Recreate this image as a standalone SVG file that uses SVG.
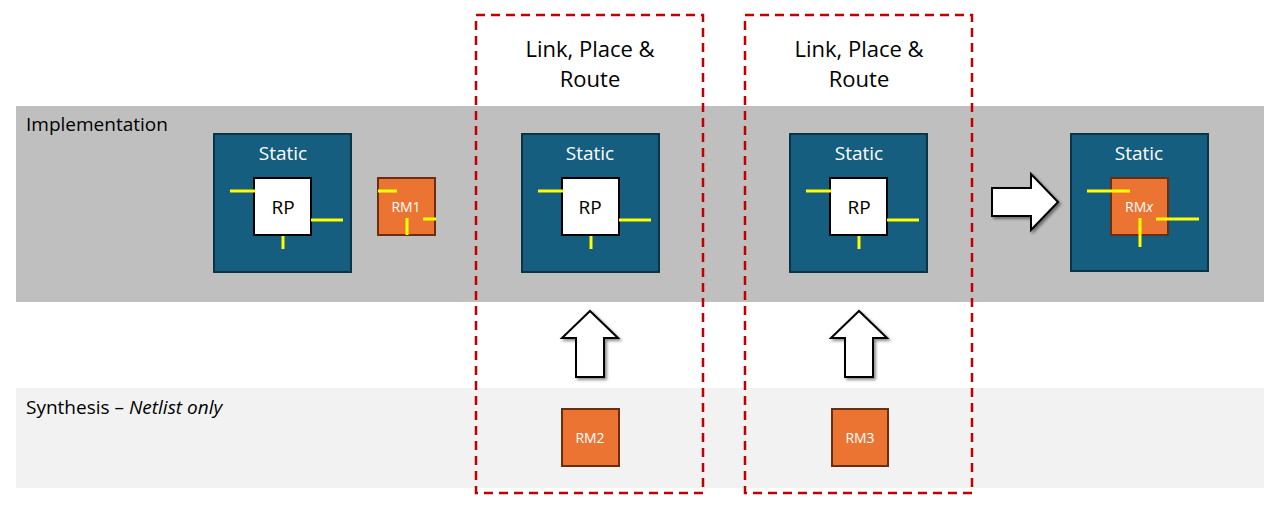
<svg xmlns="http://www.w3.org/2000/svg" width="1280" height="513" viewBox="0 0 1280 513">
<defs><style>
text{font-family:"Open Sans","Liberation Sans",sans-serif}
.st{fill:#155e80;stroke:#0c3346;stroke-width:2}
.rp{fill:#fff;stroke:#000;stroke-width:2}
.rm{fill:#ec7433;stroke:#6b2e10;stroke-width:2}
.y{stroke:#ffff00;stroke-width:3}
.wt{fill:#fff;font-size:19px;text-anchor:middle}
.bt{fill:#000;font-size:19px;text-anchor:middle}
.sm{fill:#fff;font-size:14px;text-anchor:middle}
.ar{fill:#fff;stroke:#000;stroke-width:2}
.dash{fill:none;stroke:#c00000;stroke-width:2.5;stroke-dasharray:9 6}
.lbl{font-size:19px;fill:#000}
.ttl{font-size:22px;fill:#000;text-anchor:middle}
</style>
<filter id="sh" x="-20%" y="-20%" width="150%" height="150%"><feDropShadow dx="2" dy="2" stdDeviation="1.5" flood-opacity="0.45"/></filter></defs>
<rect x="16" y="106" width="1248" height="196" fill="#bfbfbf"/>
<rect x="16" y="388" width="1248" height="100" fill="#f2f2f2"/>
<text class="lbl" x="26" y="131">Implementation</text>
<text class="lbl" x="26" y="414">Synthesis – <tspan font-style="italic">Netlist only</tspan></text>
<g id="static1"><rect class="st" x="214" y="134" width="137" height="138"/><text class="wt" x="283" y="160">Static</text>
<rect class="rp" x="254" y="178" width="57" height="57"/><text class="bt" x="283" y="214">RP</text>
<line class="y" x1="230" y1="191" x2="255" y2="191"/><line class="y" x1="311" y1="220" x2="343" y2="220"/><line class="y" x1="283" y1="236" x2="283" y2="249"/></g>
<g id="rm1"><rect class="rm" x="378" y="178" width="57" height="57"/><text class="sm" x="406" y="212">RM1</text>
<line class="y" x1="378" y1="191" x2="397" y2="191"/><line class="y" x1="407" y1="218" x2="407" y2="235"/><line class="y" x1="423" y1="219" x2="436" y2="219"/></g>
<g id="static2"><rect class="st" x="522" y="134" width="137" height="138"/><text class="wt" x="590" y="160">Static</text>
<rect class="rp" x="562" y="178" width="57" height="57"/><text class="bt" x="590" y="214">RP</text>
<line class="y" x1="538" y1="191" x2="563" y2="191"/><line class="y" x1="619" y1="220" x2="651" y2="220"/><line class="y" x1="591" y1="236" x2="591" y2="249"/></g>
<g id="static3"><rect class="st" x="790" y="134" width="137" height="138"/><text class="wt" x="859" y="160">Static</text>
<rect class="rp" x="830" y="178" width="57" height="57"/><text class="bt" x="859" y="214">RP</text>
<line class="y" x1="806" y1="191" x2="831" y2="191"/><line class="y" x1="887" y1="220" x2="919" y2="220"/><line class="y" x1="859" y1="236" x2="859" y2="249"/></g>
<g id="static4"><rect class="st" x="1071" y="134" width="137" height="137"/><text class="wt" x="1139" y="160">Static</text>
<rect class="rm" x="1111" y="178" width="57" height="57"/><text class="sm" x="1139" y="212">RM<tspan font-style="italic">x</tspan></text>
<line class="y" x1="1087" y1="191" x2="1130" y2="191"/><line class="y" x1="1156" y1="219" x2="1199" y2="219"/><line class="y" x1="1140" y1="218" x2="1140" y2="247"/></g>
<g id="rm2"><rect class="rm" x="562" y="409" width="57" height="57"/><text class="sm" x="590" y="443">RM2</text></g>
<g id="rm3"><rect class="rm" x="832" y="409" width="56" height="57"/><text class="sm" x="860" y="443">RM3</text></g>
<g id="connectors">
<polygon class="ar" filter="url(#sh)" points="992,188 1031,188 1031,174 1058,202 1031,230 1031,216 992,216"/>
<polygon class="ar" filter="url(#sh)" points="576,377 576,338 562,338 590,311 618,338 604,338 604,377"/>
<polygon class="ar" filter="url(#sh)" points="845,377 845,338 831,338 859,311 887,338 873,338 873,377"/>
</g>
<g id="lpr1"><rect class="dash" x="476" y="15" width="227" height="478"/><text class="ttl" x="590" y="57">Link, Place &amp;</text><text class="ttl" x="590" y="87">Route</text></g>
<g id="lpr2"><rect class="dash" x="745" y="15" width="227" height="478"/><text class="ttl" x="859" y="57">Link, Place &amp;</text><text class="ttl" x="859" y="87">Route</text></g>
</svg>
